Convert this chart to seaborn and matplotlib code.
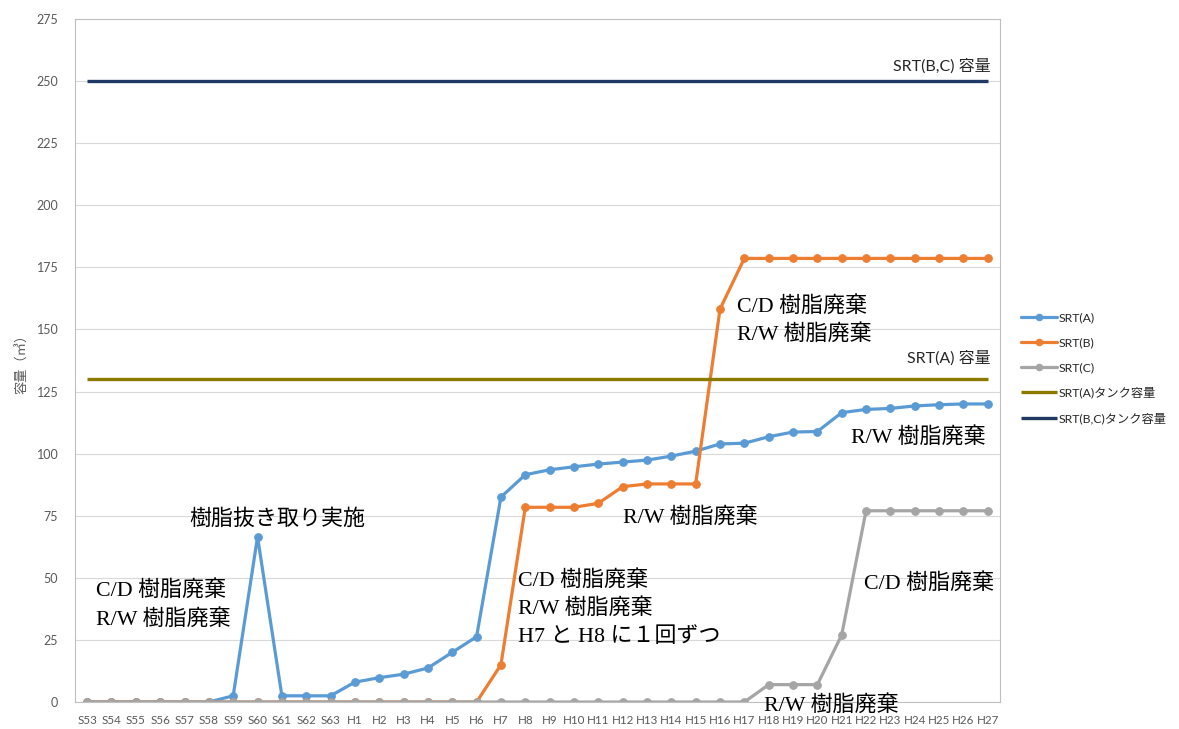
import numpy as np
import pandas as pd
import matplotlib
matplotlib.use("Agg")
import matplotlib.pyplot as plt
import seaborn as sns

# ---------------------------
# Data
# ---------------------------
years = ["S53", "S54", "S55", "S56", "S57", "S58", "S59", "S60", "S61", "S62", "S63",
         "H1", "H2", "H3", "H4", "H5", "H6", "H7", "H8", "H9", "H10", "H11", "H12",
         "H13", "H14", "H15", "H16", "H17", "H18", "H19", "H20", "H21", "H22", "H23",
         "H24", "H25", "H26", "H27"]

srt_a = [0, 0, 0, 0, 0, 0, 2.5, 66.5, 2.5, 2.5, 2.5,
         8, 9.8, 11.2, 13.7, 20, 26.3, 82.5, 91.5, 93.5, 94.7, 95.8, 96.6,
         97.4, 99, 101, 103.9, 104.2, 106.8, 108.7, 108.9, 116.5, 117.8, 118.2,
         119.2, 119.7, 120, 120]
srt_b = [0, 0, 0, 0, 0, 0, 0, 0, 0, 0, 0,
         0, 0, 0, 0, 0, 0, 15, 78.4, 78.4, 78.4, 80, 86.7,
         87.8, 87.8, 87.8, 158.2, 178.6, 178.6, 178.6, 178.6, 178.6, 178.6, 178.6,
         178.6, 178.6, 178.6, 178.6]
srt_c = [0, 0, 0, 0, 0, 0, 0, 0, 0, 0, 0,
         0, 0, 0, 0, 0, 0, 0, 0, 0, 0, 0, 0,
         0, 0, 0, 0, 0, 7, 7, 7, 27, 77, 77,
         77, 77, 77, 77]

tank_a = 130
tank_bc = 250

series_names = ["SRT(A)", "SRT(B)", "SRT(C)"]
series_colors = ["#5B9BD5", "#ED7D31", "#A5A5A5"]
tank_names = ["SRT(A)タンク容量", "SRT(B,C)タンク容量"]
tank_colors = ["#8C7A00", "#203864"]

JP_SANS = ["Lato", "Noto Sans CJK JP", "DejaVu Sans"]
JP_SERIF = ["Liberation Serif", "Noto Sans CJK JP", "DejaVu Sans"]

df = pd.DataFrame({"pos": np.arange(len(years)), "year": years,
                   "SRT(A)": srt_a, "SRT(B)": srt_b, "SRT(C)": srt_c})

# ---------------------------
# Plot
# ---------------------------
sns.set_style("white")
plt.rcParams["font.family"] = JP_SANS

fig = plt.figure(figsize=(11.79, 7.29), dpi=100)
ax = fig.add_axes([0.0636, 0.037, 0.7845, 0.937])

for name, color in zip(series_names, series_colors):
    sns.lineplot(data=df, x="pos", y=name, ax=ax, color=color, linewidth=2.3,
                 marker="o", markersize=5.5, markeredgecolor=color, label=name)

for val, name, color in zip([tank_a, tank_bc], tank_names, tank_colors):
    ax.hlines(val, 0, len(years) - 1, color=color, linewidth=2.4, label=name)

ax.set_xlim(-0.5, len(years) - 0.5)
ax.set_ylim(0, 275)
ax.set_yticks(np.arange(0, 276, 25))
ax.set_xticks(np.arange(len(years)))
ax.set_xticklabels(years)
ax.tick_params(axis="x", labelsize=8.4, colors="#595959", length=0, pad=9)
ax.tick_params(axis="y", labelsize=9, colors="#595959", length=0, pad=12)
ax.grid(axis="y", color="#D9D9D9", linewidth=0.8)
ax.set_axisbelow(True)
for side in ["top", "right", "left", "bottom"]:
    ax.spines[side].set_color("#BFBFBF")
    ax.spines[side].set_linewidth(0.8)
ax.set_xlabel("")
ax.set_ylabel("容量（㎥）", fontsize=9.5, color="#595959", labelpad=6)

# notes
note = dict(fontsize=15.8, color="black", family=JP_SERIF, va="center", ha="left")
ax.text(7.8, 73.3, "樹脂抜き取り実施", ha="center", va="center", fontsize=15.8,
        color="black", family=JP_SERIF)
ax.text(0.37, 39, "C/D 樹脂廃棄\nR/W 樹脂廃棄", linespacing=1.5, **note)
ax.text(17.7, 37.8, "C/D 樹脂廃棄\nR/W 樹脂廃棄\nH7 と H8 に１回ずつ", linespacing=1.5, **note)
ax.text(22.0, 74.5, "R/W 樹脂廃棄", **note)
ax.text(26.7, 153.6, "C/D 樹脂廃棄\nR/W 樹脂廃棄", linespacing=1.5, **note)
ax.text(31.4, 106.7, "R/W 樹脂廃棄", **note)
ax.text(31.9, 47.9, "C/D 樹脂廃棄", **note)
ax.text(27.8, -1.2, "R/W 樹脂廃棄", clip_on=False, **note)
ax.text(37.1, 256, "SRT(B,C) 容量", fontsize=11.5, ha="right", va="center", color="#262626")
ax.text(37.1, 138.5, "SRT(A) 容量", fontsize=11.5, ha="right", va="center", color="#262626")

ax.legend(loc="center left", bbox_to_anchor=(0.857, 0.495), bbox_transform=fig.transFigure,
          frameon=False, fontsize=8.8, labelspacing=1.15, handlelength=2.9,
          handletextpad=0.15, markerscale=0.85)

fig.savefig("out.png", dpi=100)
